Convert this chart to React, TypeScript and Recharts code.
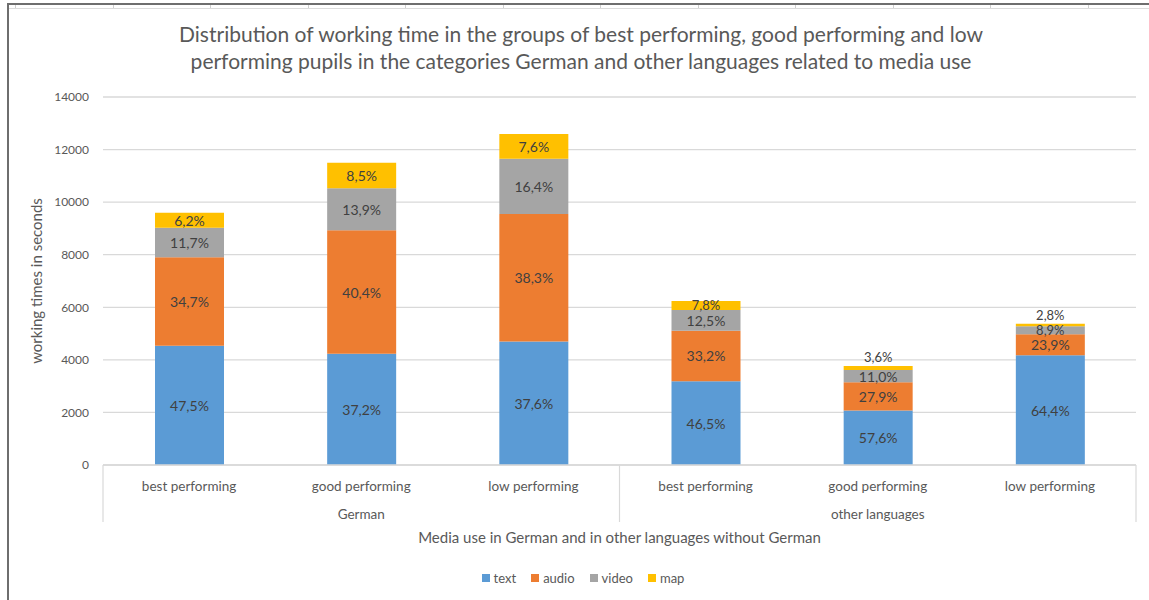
import React from 'react';
import {
  BarChart,
  Bar,
  XAxis,
  YAxis,
  CartesianGrid,
  Legend,
  LabelList,
} from 'recharts';

// categories on the lower axis and the language group each one belongs to
const categories = [
  'best performing',
  'good performing',
  'low performing',
  'best performing',
  'good performing',
  'low performing',
];
const groups = ['German', 'German', 'German', 'other languages', 'other languages', 'other languages'];

// working time per medium, in seconds
const textSec = [4540, 4230, 4700, 3190, 2070, 4180];
const audioSec = [3360, 4700, 4850, 1920, 1080, 790];
const videoSec = [1130, 1600, 2100, 790, 465, 305];
const mapSec = [570, 970, 940, 340, 150, 100];

// share labels printed on each segment (percent)
const textPct = [47.5, 37.2, 37.6, 46.5, 57.6, 64.4];
const audioPct = [34.7, 40.4, 38.3, 33.2, 27.9, 23.9];
const videoPct = [11.7, 13.9, 16.4, 12.5, 11.0, 8.9];
const mapPct = [6.2, 8.5, 7.6, 7.8, 3.6, 2.8];

const yTicks = [0, 2000, 4000, 6000, 8000, 10000, 12000, 14000];

const series = [
  { key: 'text', pct: 'textPct', color: '#5B9BD5' },
  { key: 'audio', pct: 'audioPct', color: '#ED7D31' },
  { key: 'video', pct: 'videoPct', color: '#A5A5A5' },
  { key: 'map', pct: 'mapPct', color: '#FFC000' },
];

const data = categories.map((name, i) => ({
  key: `${groups[i]}|${name}`,
  text: textSec[i],
  audio: audioSec[i],
  video: videoSec[i],
  map: mapSec[i],
  textPct: textPct[i],
  audioPct: audioPct[i],
  videoPct: videoPct[i],
  mapPct: mapPct[i],
}));

const W = 1149;
const H = 600;
const PLOT_LEFT = 103;
const PLOT_RIGHT = 13;
const BAND = (W - PLOT_LEFT - PLOT_RIGHT) / categories.length;
const AXIS_Y = 465;
const FONT = 'Lato, "Open Sans", sans-serif';
const GRID = '#d9d9d9';
const INK = '#595959';

const fmtPct = (v: number) => `${v.toFixed(1).replace('.', ',')}%`;

const segmentLabel = (props: any) => {
  const { x, y, width, height, value } = props;
  const cx = Number(x) + Number(width) / 2;
  const h = Number(height);
  // tiny segments get their label lifted just above the top edge,
  // thin ones are squeezed a little
  const cy = h < 6 ? Number(y) - 9 : Number(y) + h / 2;
  const size = h < 10 ? 13 : 14;
  return (
    <text
      x={cx}
      y={cy}
      textAnchor="middle"
      dominantBaseline="central"
      fontSize={size}
      fontFamily={FONT}
      fill="#404040"
    >
      {fmtPct(Number(value))}
    </text>
  );
};

const CategoryTick = (props: any) => {
  const { x, payload } = props;
  const i = payload.index;
  const lines: number[] = [];
  if (i === 0 || i === 3) lines.push(x - BAND / 2);
  if (i === categories.length - 1) lines.push(x + BAND / 2);
  return (
    <g>
      {lines.map((lx) => (
        <line key={lx} x1={lx} x2={lx} y1={AXIS_Y} y2={522} stroke={GRID} strokeWidth={1.2} />
      ))}
      <text
        x={x}
        y={486}
        textAnchor="middle"
        dominantBaseline="central"
        fontSize={13.5}
        fontFamily={FONT}
        fill={INK}
      >
        {categories[i]}
      </text>
    </g>
  );
};

const GroupTick = (props: any) => {
  const { x, payload } = props;
  const i = payload.index;
  // group name sits under the middle category of its three
  if (i !== 1 && i !== 4) return <g />;
  return (
    <text
      x={x}
      y={514}
      textAnchor="middle"
      dominantBaseline="central"
      fontSize={13.5}
      fontFamily={FONT}
      fill={INK}
    >
      {groups[i]}
    </text>
  );
};

const LegendContent = () => (
  <div
    style={{
      display: 'flex',
      justifyContent: 'center',
      alignItems: 'center',
      gap: 15,
      fontFamily: FONT,
      fontSize: 13,
      color: INK,
      paddingLeft: 30,
    }}
  >
    {series.map((s) => (
      <span key={s.key} style={{ display: 'flex', alignItems: 'center', gap: 4 }}>
        <span style={{ width: 8, height: 8, background: s.color, display: 'inline-block' }} />
        {s.key}
      </span>
    ))}
  </div>
);

// sheet-style frame along the top and left edge
const Frame = () => {
  const cells: number[] = [];
  for (let cx = 15; cx < W; cx += 97.5) cells.push(cx);
  return (
    <>
      <div style={{ position: 'absolute', left: 7, top: 3, width: W - 7, height: 2, background: '#6e6e6e' }} />
      <div style={{ position: 'absolute', left: 7, top: 3, width: 2, height: H - 3, background: '#6e6e6e' }} />
      <div style={{ position: 'absolute', left: 9, top: 8, width: W - 9, height: 1, background: '#dcdcdc' }} />
      {cells.map((cx) => (
        <div key={cx} style={{ position: 'absolute', left: cx, top: 5, width: 1, height: 3, background: '#d0d0d0' }} />
      ))}
    </>
  );
};

export default function App() {
  return (
    <div
      style={{
        position: 'absolute',
        left: 0,
        top: 0,
        width: W,
        height: H,
        background: '#fff',
        fontFamily: FONT,
        overflow: 'hidden',
      }}
    >
      <Frame />
      <div
        style={{
          position: 'absolute',
          left: 0,
          top: 20,
          width: 1162,
          textAlign: 'center',
          fontSize: 21,
          lineHeight: '27px',
          color: INK,
        }}
      >
        Distribution of working time in the groups of best performing, good performing and low
        <br />
        performing pupils in the categories German and other languages related to media use
      </div>
      <BarChart
        width={W}
        height={H}
        data={data}
        margin={{ top: 97, right: PLOT_RIGHT, left: 0, bottom: 6 }}
        barSize={69}
        style={{ position: 'absolute', left: 0, top: 0 }}
      >
        <CartesianGrid vertical={false} stroke={GRID} strokeWidth={1.3} />
        <YAxis
          width={PLOT_LEFT}
          domain={[0, 14000]}
          ticks={yTicks}
          interval={0}
          axisLine={false}
          tickLine={false}
          tickMargin={8}
          tick={{ fontSize: 12, fill: INK, fontFamily: FONT }}
          label={{
            value: 'working times in seconds',
            angle: -90,
            position: 'insideLeft',
            offset: 37,
            style: { textAnchor: 'middle', fontSize: 15, fill: INK, fontFamily: FONT },
          }}
        />
        <XAxis
          dataKey="key"
          height={30}
          interval={0}
          tickLine={false}
          axisLine={{ stroke: GRID, strokeWidth: 1.3 }}
          tick={<CategoryTick />}
        />
        <XAxis
          xAxisId="group"
          dataKey="key"
          height={75}
          interval={0}
          tickLine={false}
          axisLine={false}
          tick={<GroupTick />}
          label={{
            value: 'Media use in German and in other languages without German',
            position: 'insideBottom',
            offset: 27,
            style: { fontSize: 15, fill: INK, fontFamily: FONT },
          }}
        />
        <Legend verticalAlign="bottom" height={24} content={<LegendContent />} />
        {series.map((s) => (
          <Bar key={s.key} dataKey={s.key} stackId="a" fill={s.color} isAnimationActive={false}>
            <LabelList dataKey={s.pct} content={segmentLabel} />
          </Bar>
        ))}
      </BarChart>
    </div>
  );
}
